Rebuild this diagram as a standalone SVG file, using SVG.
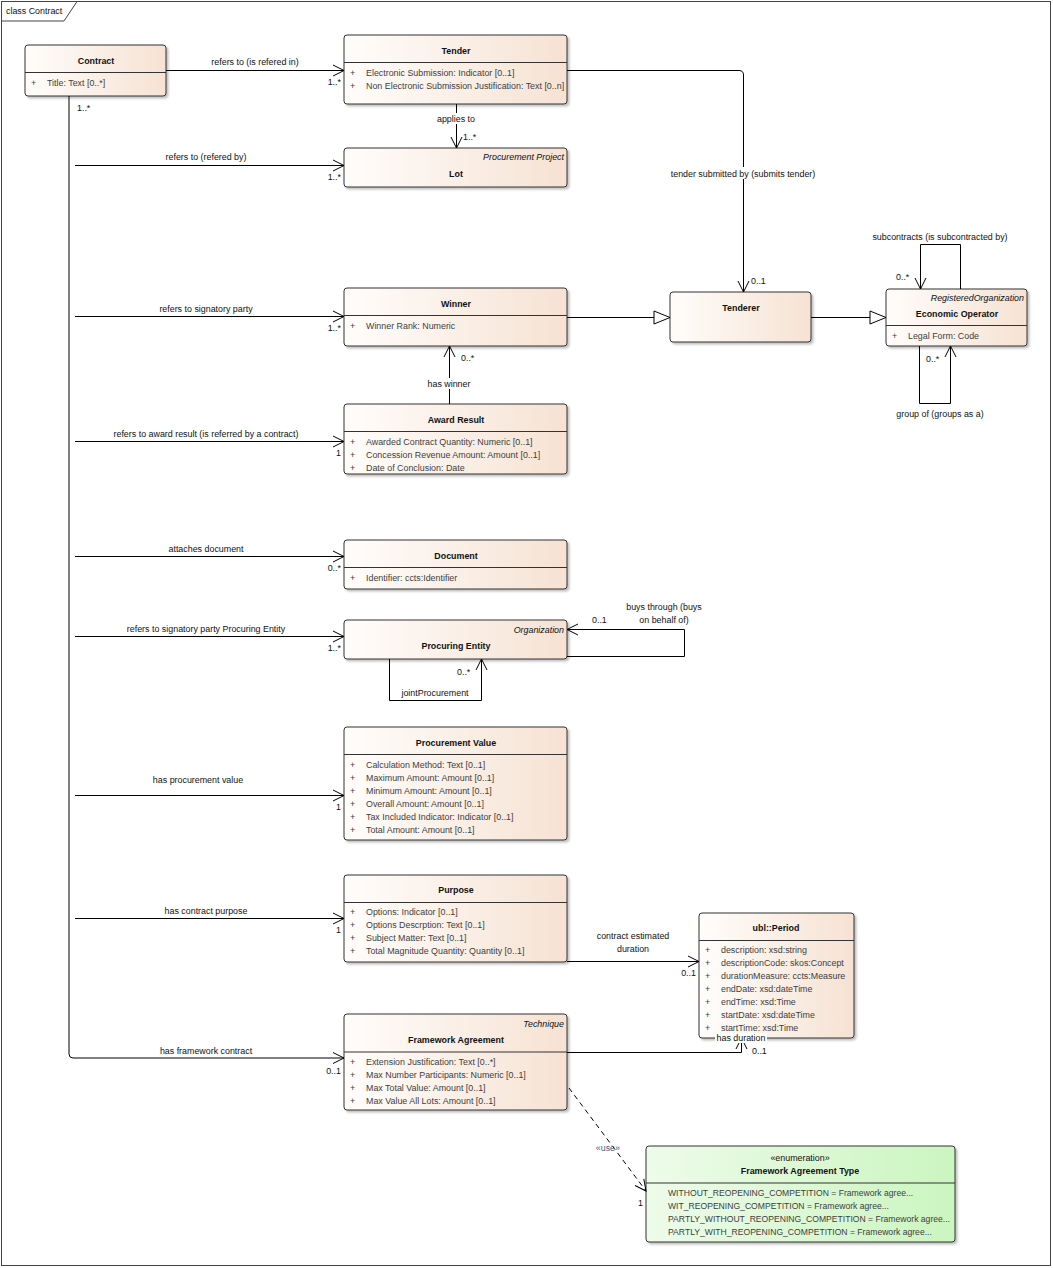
<svg xmlns="http://www.w3.org/2000/svg" width="1053" height="1268" viewBox="0 0 1053 1268">
<style>
text{font-family:"Liberation Sans",Arial,sans-serif;font-size:8.9px;fill:#111}
.t{font-weight:bold;font-size:8.9px;text-anchor:middle}
.a{fill:#3e3e3e}
.e{fill:#3e3e3e;font-size:8.6px}
.s{font-style:italic;text-anchor:end}
.m{text-anchor:middle}
.r{text-anchor:end}
.box{fill:url(#g);stroke:#333;stroke-width:1;filter:url(#sh)}
.en{fill:url(#gg);stroke:#333;stroke-width:1;filter:url(#sh)}
.div{stroke:#333;stroke-width:1}
.c{fill:none;stroke:#000;stroke-width:1}
.oa{marker-end:url(#open)}
.ga{marker-end:url(#tri)}
.lb{fill:#fff}
</style>
<defs>
<linearGradient id="g" x1="0" y1="0" x2="1" y2="0"><stop offset="0" stop-color="#fffdfb"/><stop offset="1" stop-color="#f6e2d3"/></linearGradient>
<linearGradient id="gg" x1="0" y1="0" x2="1" y2="0"><stop offset="0" stop-color="#eefbea"/><stop offset="1" stop-color="#cbf5c0"/></linearGradient>
<filter id="sh" x="-5%" y="-5%" width="115%" height="120%"><feDropShadow dx="2" dy="2" stdDeviation="1" flood-color="#000" flood-opacity="0.25"/></filter>
<marker id="open" markerUnits="userSpaceOnUse" markerWidth="14" markerHeight="14" refX="11" refY="6" orient="auto" overflow="visible"><path d="M0,0.5 L11,6 L0,11.5" fill="none" stroke="#000" stroke-width="1"/></marker>
<marker id="tri" markerUnits="userSpaceOnUse" markerWidth="18" markerHeight="16" refX="16" refY="7" orient="auto" overflow="visible"><path d="M0,0.5 L16,7 L0,13.5 Z" fill="#fff" stroke="#000" stroke-width="1"/></marker>
</defs>
<rect x="0" y="0" width="1053" height="1268" fill="#fff"/>
<g id="frame">
<rect x="1.5" y="1.5" width="1049" height="1264" fill="none" stroke="#444"/>
<path d="M1.5,21 H64 L77,1.5" fill="none" stroke="#444"/>
<text x="6" y="14">class Contract</text>
</g>
<g id="contract">
<rect class="box" x="25" y="45" width="141" height="51" rx="3"/>
<line class="div" x1="25" y1="72.5" x2="166" y2="72.5"/>
<text class="t" x="96" y="64">Contract</text>
<text class="a" x="31" y="86">+</text><text class="a" x="47" y="86">Title: Text [0..*]</text>
</g>
<g id="tender">
<rect class="box" x="344" y="35" width="223" height="69" rx="3"/>
<line class="div" x1="344" y1="62.5" x2="567" y2="62.5"/>
<text class="t" x="456" y="54">Tender</text>
<text class="a" x="350" y="76">+</text><text class="a" x="366" y="76">Electronic Submission: Indicator [0..1]</text>
<text class="a" x="350" y="89">+</text><text class="a" x="366" y="89">Non Electronic Submission Justification: Text [0..n]</text>
</g>
<g id="lot">
<rect class="box" x="344" y="148" width="223" height="39" rx="3"/>
<text class="s" x="564" y="160">Procurement Project</text>
<text class="t" x="456" y="177">Lot</text>
</g>
<g id="tenderer">
<rect class="box" x="670" y="292" width="141" height="50" rx="3"/>
<text class="t" x="741" y="311">Tenderer</text>
</g>
<g id="economic-operator">
<rect class="box" x="886" y="289" width="141" height="57" rx="3"/>
<line class="div" x1="886" y1="325.5" x2="1027" y2="325.5"/>
<text class="s" x="1024" y="301">RegisteredOrganization</text>
<text class="t" x="957" y="317">Economic Operator</text>
<text class="a" x="892" y="339">+</text><text class="a" x="908" y="339">Legal Form: Code</text>
</g>
<g id="winner">
<rect class="box" x="344" y="288" width="223" height="58" rx="3"/>
<line class="div" x1="344" y1="315.5" x2="567" y2="315.5"/>
<text class="t" x="456" y="307">Winner</text>
<text class="a" x="350" y="329">+</text><text class="a" x="366" y="329">Winner Rank: Numeric</text>
</g>
<g id="award-result">
<rect class="box" x="344" y="404" width="223" height="70" rx="3"/>
<line class="div" x1="344" y1="431.5" x2="567" y2="431.5"/>
<text class="t" x="456" y="423">Award Result</text>
<text class="a" x="350" y="445">+</text><text class="a" x="366" y="445">Awarded Contract Quantity: Numeric [0..1]</text>
<text class="a" x="350" y="458">+</text><text class="a" x="366" y="458">Concession Revenue Amount: Amount [0..1]</text>
<text class="a" x="350" y="471">+</text><text class="a" x="366" y="471">Date of Conclusion: Date</text>
</g>
<g id="document">
<rect class="box" x="344" y="540" width="223" height="49" rx="3"/>
<line class="div" x1="344" y1="567.5" x2="567" y2="567.5"/>
<text class="t" x="456" y="559">Document</text>
<text class="a" x="350" y="581">+</text><text class="a" x="366" y="581">Identifier: ccts:Identifier</text>
</g>
<g id="procuring-entity">
<rect class="box" x="344" y="620" width="223" height="39" rx="3"/>
<text class="s" x="564" y="633">Organization</text>
<text class="t" x="456" y="649">Procuring Entity</text>
</g>
<g id="procurement-value">
<rect class="box" x="344" y="727" width="223" height="113" rx="3"/>
<line class="div" x1="344" y1="754.5" x2="567" y2="754.5"/>
<text class="t" x="456" y="746">Procurement Value</text>
<text class="a" x="350" y="768">+</text><text class="a" x="366" y="768">Calculation Method: Text [0..1]</text>
<text class="a" x="350" y="781">+</text><text class="a" x="366" y="781">Maximum Amount: Amount [0..1]</text>
<text class="a" x="350" y="794">+</text><text class="a" x="366" y="794">Minimum Amount: Amount [0..1]</text>
<text class="a" x="350" y="807">+</text><text class="a" x="366" y="807">Overall Amount: Amount [0..1]</text>
<text class="a" x="350" y="820">+</text><text class="a" x="366" y="820">Tax Included Indicator: Indicator [0..1]</text>
<text class="a" x="350" y="833">+</text><text class="a" x="366" y="833">Total Amount: Amount [0..1]</text>
</g>
<g id="purpose">
<rect class="box" x="344" y="875" width="223" height="87" rx="3"/>
<line class="div" x1="344" y1="902.5" x2="567" y2="902.5"/>
<text class="t" x="456" y="893">Purpose</text>
<text class="a" x="350" y="915">+</text><text class="a" x="366" y="915">Options: Indicator [0..1]</text>
<text class="a" x="350" y="928">+</text><text class="a" x="366" y="928">Options Descrption: Text [0..1]</text>
<text class="a" x="350" y="941">+</text><text class="a" x="366" y="941">Subject Matter: Text [0..1]</text>
<text class="a" x="350" y="954">+</text><text class="a" x="366" y="954">Total Magnitude Quantity: Quantity [0..1]</text>
</g>
<g id="period">
<rect class="box" x="699" y="913" width="155" height="125" rx="3"/>
<line class="div" x1="699" y1="940.5" x2="854" y2="940.5"/>
<text class="t" x="776" y="931">ubl::Period</text>
<text class="a" x="705" y="953">+</text><text class="a" x="721" y="953">description: xsd:string</text>
<text class="a" x="705" y="966">+</text><text class="a" x="721" y="966">descriptionCode: skos:Concept</text>
<text class="a" x="705" y="979">+</text><text class="a" x="721" y="979">durationMeasure: ccts:Measure</text>
<text class="a" x="705" y="992">+</text><text class="a" x="721" y="992">endDate: xsd:dateTime</text>
<text class="a" x="705" y="1005">+</text><text class="a" x="721" y="1005">endTime: xsd:Time</text>
<text class="a" x="705" y="1018">+</text><text class="a" x="721" y="1018">startDate: xsd:dateTime</text>
<text class="a" x="705" y="1031">+</text><text class="a" x="721" y="1031">startTime: xsd:Time</text>
</g>
<g id="framework-agreement">
<rect class="box" x="344" y="1014" width="223" height="96" rx="3"/>
<line class="div" x1="344" y1="1052" x2="567" y2="1052"/>
<text class="s" x="564" y="1027">Technique</text>
<text class="t" x="456" y="1043">Framework Agreement</text>
<text class="a" x="350" y="1065">+</text><text class="a" x="366" y="1065">Extension Justification: Text [0..*]</text>
<text class="a" x="350" y="1078">+</text><text class="a" x="366" y="1078">Max Number Participants: Numeric [0..1]</text>
<text class="a" x="350" y="1091">+</text><text class="a" x="366" y="1091">Max Total Value: Amount [0..1]</text>
<text class="a" x="350" y="1104">+</text><text class="a" x="366" y="1104">Max Value All Lots: Amount [0..1]</text>
</g>
<g id="framework-agreement-type">
<rect class="en" x="646" y="1146" width="309" height="96" rx="3"/>
<line class="div" x1="646" y1="1183" x2="955" y2="1183"/>
<text class="m" x="800" y="1161">«enumeration»</text>
<text class="t" x="800" y="1174">Framework Agreement Type</text>
<text class="e" x="668" y="1196">WITHOUT_REOPENING_COMPETITION = Framework agree...</text>
<text class="e" x="668" y="1209">WIT_REOPENING_COMPETITION = Framework agree...</text>
<text class="e" x="668" y="1222">PARTLY_WITHOUT_REOPENING_COMPETITION = Framework agree...</text>
<text class="e" x="668" y="1235">PARTLY_WITH_REOPENING_COMPETITION = Framework agree...</text>
</g>
<g id="connectors">
<path class="c" d="M69,96 V1054 Q69,1058 73,1058 H344" marker-end="url(#open)"/>
<text x="77" y="111">1..*</text>
<text class="r" x="341" y="1074">0..1</text>
<text class="m" x="206" y="1054">has framework contract</text>
<path class="c oa" d="M166,70.5 H344"/>
<text class="m" x="255" y="65">refers to (is refered in)</text>
<text class="r" x="341" y="85">1..*</text>
<path class="c oa" d="M75,165.5 H344"/>
<text class="m" x="206" y="160">refers to (refered by)</text>
<text class="r" x="341" y="180">1..*</text>
<path class="c oa" d="M456.5,104 V148"/>
<rect class="lb" x="433" y="113" width="47" height="11"/>
<text class="m" x="456" y="122">applies to</text>
<text x="463" y="140">1..*</text>
<path class="c oa" d="M567,70.5 H739 Q743.5,70.5 743.5,75 V292"/>
<rect class="lb" x="668" y="167" width="150" height="12"/>
<text class="m" x="743" y="177">tender submitted by (submits tender)</text>
<text x="751" y="284">0..1</text>
<path class="c oa" d="M75,316.5 H344"/>
<text class="m" x="206" y="312">refers to signatory party</text>
<text class="r" x="341" y="331">1..*</text>
<path class="c ga" d="M567,317.5 H670"/>
<path class="c ga" d="M811,317.5 H886"/>
<path class="c oa" d="M960.5,289 V244.5 H920.5 V289"/>
<text class="m" x="940" y="240">subcontracts (is subcontracted by)</text>
<text x="896" y="280">0..*</text>
<path class="c oa" d="M919.5,346 V403.5 H950.5 V346"/>
<text x="926" y="362">0..*</text>
<text class="m" x="940" y="417">group of (groups as a)</text>
<path class="c oa" d="M75,441.5 H344"/>
<text class="m" x="206" y="437">refers to award result (is referred by a contract)</text>
<text class="r" x="341" y="456">1</text>
<path class="c oa" d="M449.5,404 V346"/>
<rect class="lb" x="424" y="378" width="51" height="11"/>
<text class="m" x="449" y="387">has winner</text>
<text x="461" y="361">0..*</text>
<path class="c oa" d="M75,556.5 H344"/>
<text class="m" x="206" y="552">attaches document</text>
<text class="r" x="341" y="571">0..*</text>
<path class="c oa" d="M75,636.5 H344"/>
<text class="m" x="206" y="632">refers to signatory party Procuring Entity</text>
<text class="r" x="341" y="651">1..*</text>
<path class="c oa" d="M567,656.5 H684.5 V629.5 H567"/>
<text class="m" x="664" y="610">buys through (buys</text>
<text class="m" x="664" y="623">on behalf of)</text>
<text x="592" y="623">0..1</text>
<path class="c oa" d="M389.5,659 V700.5 H481.5 V659"/>
<text class="m" x="435" y="696">jointProcurement</text>
<text x="457" y="675">0..*</text>
<path class="c oa" d="M75,795.5 H344"/>
<text class="m" x="198" y="783">has procurement value</text>
<text class="r" x="341" y="810">1</text>
<path class="c oa" d="M75,918.5 H344"/>
<text class="m" x="206" y="914">has contract purpose</text>
<text class="r" x="341" y="933">1</text>
<path class="c oa" d="M567,961.5 H699"/>
<text class="m" x="633" y="939">contract estimated</text>
<text class="m" x="633" y="952">duration</text>
<text class="r" x="696" y="976">0..1</text>
<path class="c oa" d="M567,1052.5 H741.5 V1038"/>
<rect class="lb" x="715" y="1033" width="52" height="10"/>
<text class="m" x="741" y="1041">has duration</text>
<text x="752" y="1054">0..1</text>
<path class="c oa" d="M569,1088 L646,1191" stroke-dasharray="5,4"/>
<text class="r" x="620" y="1151" style="fill:#4a5a7a">«use»</text>
<text x="638" y="1206">1</text>
</g>
</svg>
